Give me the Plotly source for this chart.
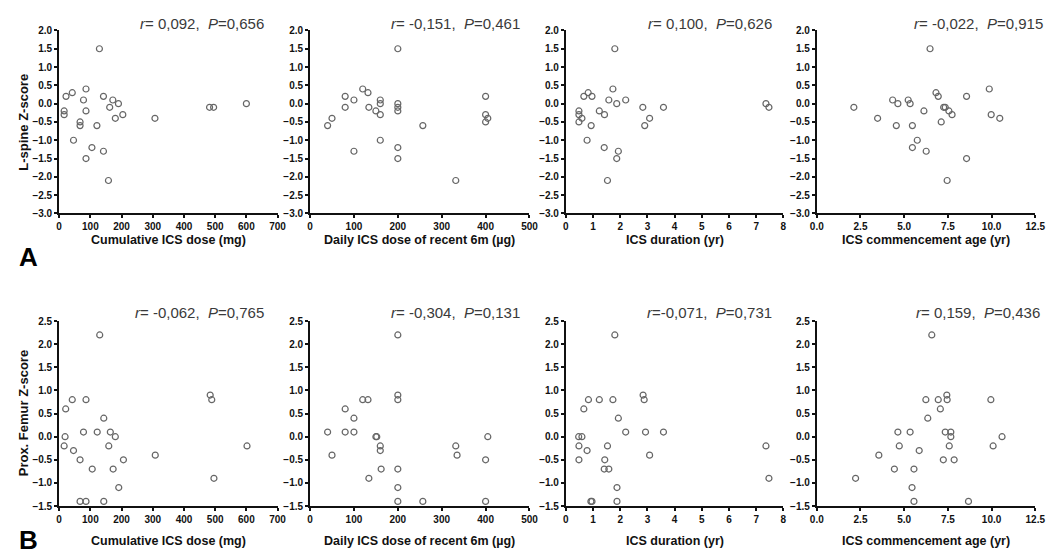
import plotly.graph_objects as go

# ---------------- data ----------------
# Row A: L-spine Z-score
a1_x = [16, 16, 22, 42, 46, 67, 67, 78, 86, 86, 86, 105, 121, 129, 142, 142, 158, 162, 172, 180, 190, 204, 307, 482, 495, 600]
a1_y = [-0.2, -0.3, 0.2, 0.3, -1.0, -0.5, -0.6, 0.1, 0.4, -0.2, -1.5, -1.2, -0.6, 1.5, 0.2, -1.3, -2.1, -0.1, 0.1, -0.4, 0.0, -0.3, -0.4, -0.1, -0.1, 0.0]

a2_x = [40, 50, 80, 80, 100, 100, 120, 132, 134, 150, 160, 160, 160, 160, 200, 200, 200, 200, 200, 200, 257, 332, 400, 400, 400, 405]
a2_y = [-0.6, -0.4, 0.2, -0.1, 0.1, -1.3, 0.4, 0.3, -0.1, -0.2, 0.1, 0.0, -0.3, -1.0, 1.5, 0.0, -0.1, -0.2, -1.2, -1.5, -0.6, -2.1, 0.2, -0.3, -0.5, -0.4]

a3_x = [0.48, 0.48, 0.48, 0.59, 0.66, 0.82, 0.78, 0.96, 0.93, 1.23, 1.42, 1.41, 1.53, 1.58, 1.73, 1.80, 1.87, 1.87, 1.93, 2.20, 2.83, 2.90, 3.08, 3.59, 7.36, 7.47]
a3_y = [-0.2, -0.3, -0.5, -0.4, 0.2, 0.3, -1.0, 0.2, -0.6, -0.2, -0.3, -1.2, -2.1, 0.1, 0.4, 1.5, 0.0, -1.5, -1.3, 0.1, -0.1, -0.6, -0.4, -0.1, 0.0, -0.1]

a4_x = [2.12, 3.48, 4.34, 4.55, 4.64, 5.23, 5.34, 5.47, 5.47, 5.75, 6.13, 6.26, 6.48, 6.82, 6.95, 7.12, 7.26, 7.35, 7.46, 7.56, 7.74, 8.57, 8.57, 9.87, 9.98, 10.47]
a4_y = [-0.1, -0.4, 0.1, -0.6, 0.0, 0.1, 0.0, -0.6, -1.2, -1.0, -0.2, -1.3, 1.5, 0.3, 0.2, -0.5, -0.1, -0.1, -2.1, -0.2, -0.3, 0.2, -1.5, 0.4, -0.3, -0.4]

# Row B: Prox. Femur Z-score
b1_x = [16, 19, 21, 42, 46, 67, 67, 78, 86, 86, 106, 122, 130, 143, 143, 159, 164, 173, 180, 191, 206, 308, 484, 489, 496, 602]
b1_y = [-0.2, 0.0, 0.6, 0.8, -0.3, -0.5, -1.4, 0.1, 0.8, -1.4, -0.7, 0.1, 2.2, 0.4, -1.4, -0.2, 0.1, -0.7, 0.0, -1.1, -0.5, -0.4, 0.9, 0.8, -0.9, -0.2]

b2_x = [40, 50, 80, 80, 100, 100, 120, 132, 134, 150, 152, 160, 160, 162, 200, 200, 200, 200, 200, 200, 257, 332, 335, 400, 400, 405]
b2_y = [0.1, -0.4, 0.6, 0.1, 0.4, 0.1, 0.8, 0.8, -0.9, 0.0, 0.0, -0.2, -0.3, -0.7, 2.2, 0.9, 0.8, -0.7, -1.1, -1.4, -1.4, -0.2, -0.4, -0.5, -1.4, 0.0]

b3_x = [0.47, 0.59, 0.48, 0.48, 0.66, 0.78, 0.83, 0.92, 0.96, 1.23, 1.43, 1.41, 1.53, 1.58, 1.73, 1.80, 1.88, 1.88, 1.93, 2.20, 2.84, 2.88, 2.93, 3.08, 3.59, 7.36, 7.47]
b3_y = [0.0, 0.0, -0.2, -0.5, 0.6, -0.3, 0.8, -1.4, -1.4, 0.8, -0.5, -0.7, -0.2, -0.7, 0.8, 2.2, -1.1, -1.4, 0.4, 0.1, 0.9, 0.8, 0.1, -0.4, 0.1, -0.2, -0.9]

b4_x = [2.22, 3.55, 4.44, 4.64, 4.72, 5.34, 5.45, 5.56, 5.56, 5.86, 6.24, 6.35, 6.58, 6.95, 7.07, 7.24, 7.35, 7.44, 7.46, 7.58, 7.67, 7.67, 7.86, 8.68, 9.96, 10.09, 10.60]
b4_y = [-0.9, -0.4, -0.7, 0.1, -0.2, 0.1, -1.1, -0.7, -1.4, -0.3, 0.8, 0.4, 2.2, 0.8, 0.6, -0.5, 0.1, 0.9, 0.8, -0.2, 0.1, 0.0, -0.5, -1.4, 0.8, -0.2, 0.0]

x_titles = ["Cumulative ICS dose (mg)", "Daily ICS dose of recent 6m (µg)",
            "ICS duration (yr)", "ICS commencement age (yr)"]
y_titles = ["L-spine Z-score", "Prox. Femur Z-score"]
stats_a = [("0,092", "0,656", " "), ("-0,151", "0,461", " "), ("0,100", "0,626", " "), ("-0,022", "0,915", " ")]
stats_b = [("-0,062", "0,765", " "), ("-0,304", "0,131", " "), ("-0,071", "0,731", ""), ("0,159", "0,436", " ")]
x_ranges = [[0, 700], [0, 500], [0, 8], [0, 12.5]]
x_dticks = [100, 100, 1, 2.5]
x_formats = ["d", "d", "d", ".1f"]
panel_labels = ["A", "B"]

# ---------------- layout helpers ----------------
W, H = 1060, 559
px = lambda x: x / W
py = lambda y: 1 - y / H

x_pix = [(53, 275), (308, 531), (568, 789), (823, 1045)]
y_pix = [(25, 212), (322, 511)]
y_ranges = [[-3, 2], [-1.5, 2.5]]

rows = [[(a1_x, a1_y), (a2_x, a2_y), (a3_x, a3_y), (a4_x, a4_y)],
        [(b1_x, b1_y), (b2_x, b2_y), (b3_x, b3_y), (b4_x, b4_y)]]
stats = [stats_a, stats_b]

fig = go.Figure()
layout = {}
annotations = []
tickfont = dict(family="Liberation Sans", size=10, color="#111", weight="bold")

for r in range(2):
    for c in range(4):
        k = r * 4 + c + 1
        xa = "x" if k == 1 else f"x{k}"
        ya = "y" if k == 1 else f"y{k}"
        xs, ys = rows[r][c]
        fig.add_trace(go.Scatter(
            x=xs, y=ys, mode="markers", xaxis=xa, yaxis=ya, showlegend=False,
            cliponaxis=False,
            marker=dict(symbol="circle-open", size=6, color="#666", line=dict(width=1.2, color="#666"))))
        common = dict(showline=True, linewidth=2, linecolor="#111", ticks="outside",
                      ticklen=3, tickwidth=2, tickcolor="#111", showgrid=False,
                      zeroline=False, tickfont=tickfont, fixedrange=True)
        layout["xaxis" if k == 1 else f"xaxis{k}"] = dict(
            domain=[px(x_pix[c][0]), px(x_pix[c][1])], range=x_ranges[c],
            dtick=x_dticks[c], tick0=0, tickformat=x_formats[c], anchor=ya, **common)
        layout["yaxis" if k == 1 else f"yaxis{k}"] = dict(
            domain=[py(y_pix[r][1]), py(y_pix[r][0])], range=y_ranges[r],
            dtick=0.5, tick0=0, tickformat=".1f", anchor=xa, **common)
        # x title
        xt_y = [239, 547][r]
        annotations.append(dict(
            x=px((x_pix[c][0] + x_pix[c][1]) / 2), y=py(xt_y), xref="paper", yref="paper",
            text=x_titles[c], showarrow=False, xanchor="center", yanchor="middle",
            font=dict(family="Liberation Sans", size=12.5, color="#111", weight="bold")))
        # stats
        rv, pv, sp = stats[r][c]
        right = [[263, 523, 780, 1055], [263, 523, 780, 1052]][r][c]
        st_y = [18, 313][r]
        annotations.append(dict(
            x=px(right), y=py(st_y), xref="paper", yref="paper",
            text=f"<i>r</i>={sp}{rv},  <i>P</i>={pv}", showarrow=False,
            xanchor="right", yanchor="middle",
            font=dict(family="Liberation Sans", size=15, color="#3a3a3a")))
    # y title
    annotations.append(dict(
        x=px(17), y=py((y_pix[r][0] + y_pix[r][1]) / 2), xref="paper", yref="paper",
        text=y_titles[r], showarrow=False, textangle=-90, xanchor="center", yanchor="middle",
        font=dict(family="Liberation Sans", size=13, color="#111", weight="bold")))
    # panel letter
    annotations.append(dict(
        x=px(22), y=py([257, 546][r]), xref="paper", yref="paper",
        text=panel_labels[r], showarrow=False, xanchor="center", yanchor="middle",
        font=dict(family="Liberation Sans", size=26, color="#000", weight="bold")))

fig.update_layout(
    width=W, height=H, margin=dict(l=0, r=0, t=0, b=0),
    paper_bgcolor="white", plot_bgcolor="white",
    annotations=annotations, **layout)

fig.write_html("out.html")
